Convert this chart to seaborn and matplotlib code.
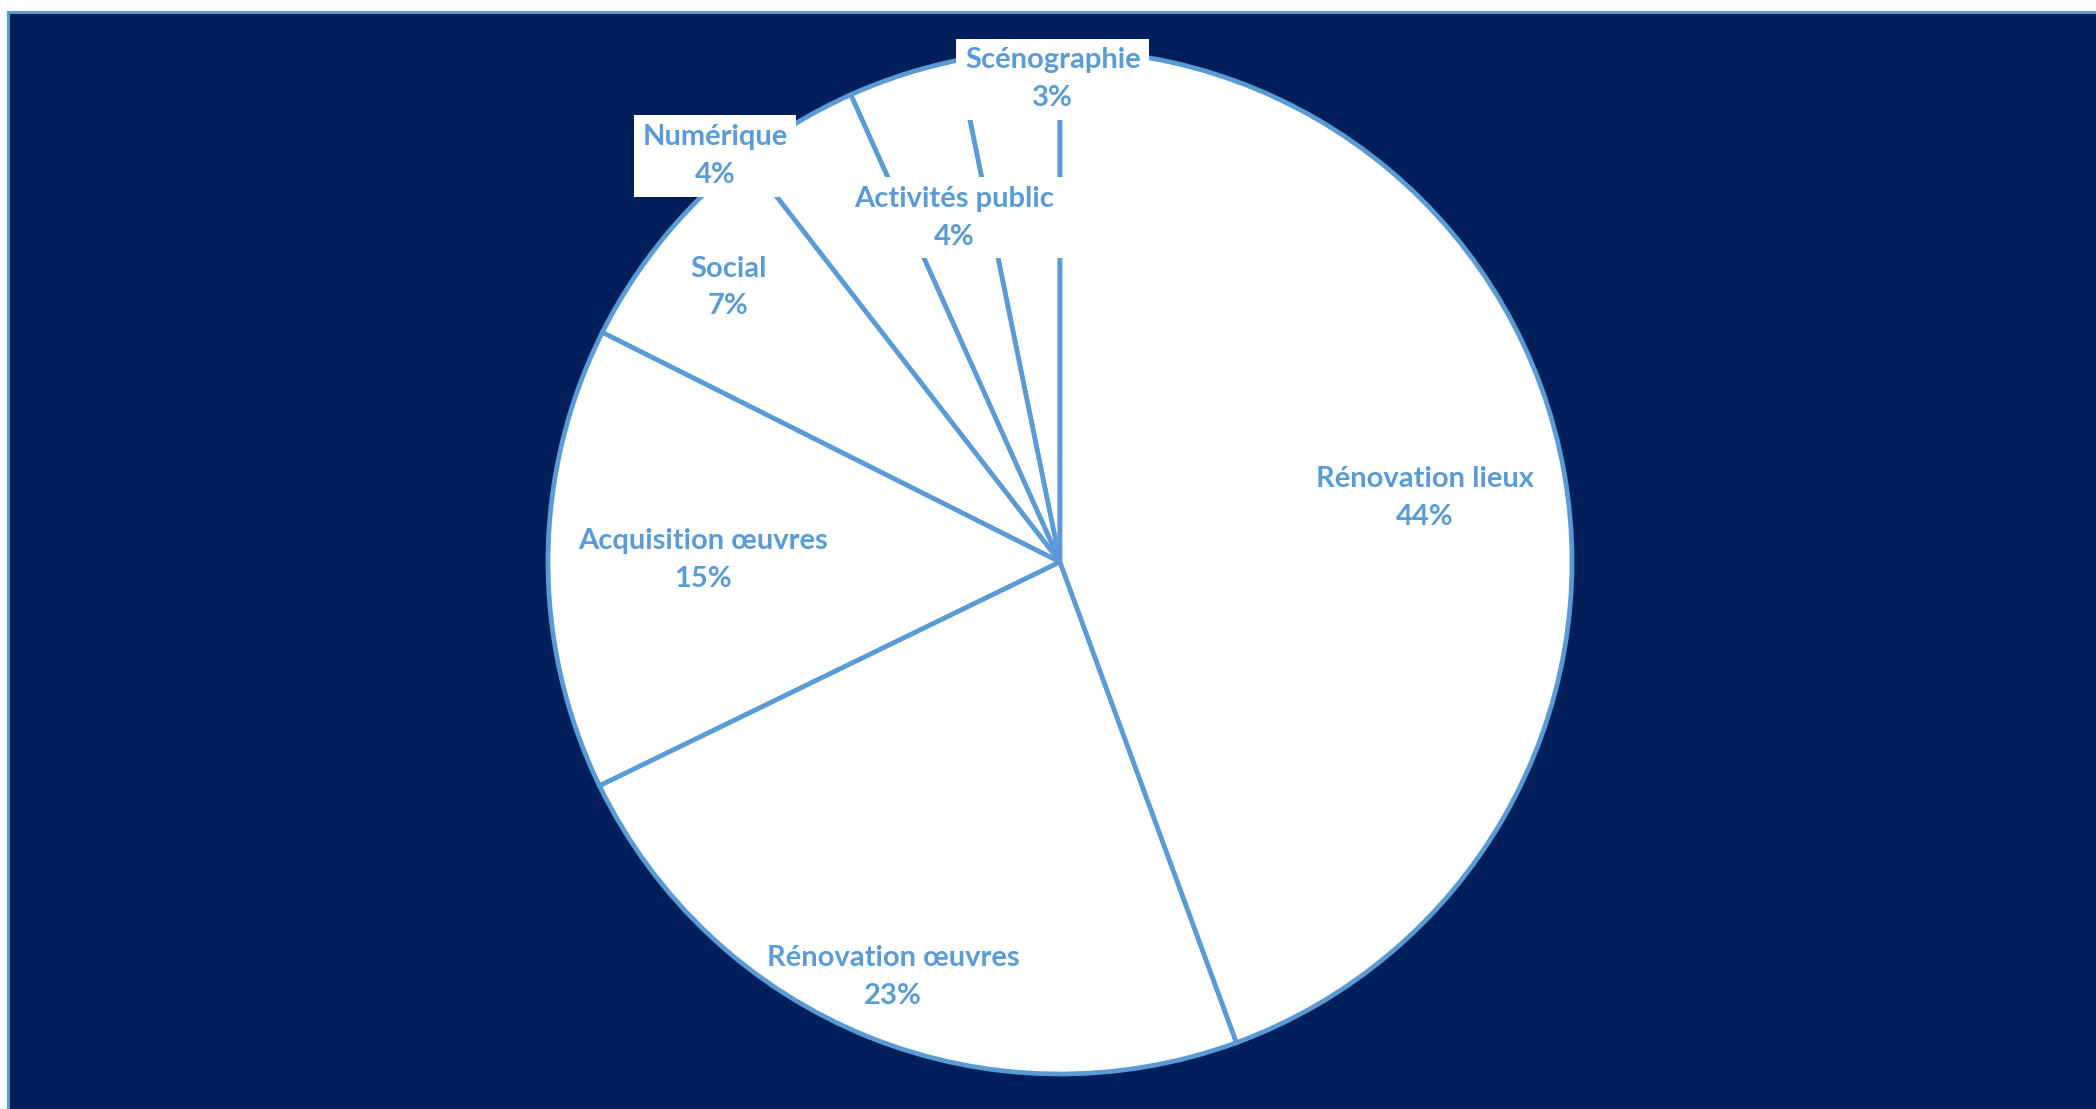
import matplotlib
matplotlib.use("Agg")
import matplotlib.pyplot as plt
from matplotlib.patches import Rectangle
import seaborn as sns

# === données (lecture du graphique, ordre anti-horaire depuis 12h) ===
categories = ["Scénographie", "Activités public", "Numérique", "Social",
              "Acquisition œuvres", "Rénovation œuvres", "Rénovation lieux"]
parts = [3.2, 3.5, 3.8, 7.1, 14.6, 23.4, 44.4]

# position des étiquettes (coord. de l'axe, rayon = 1)
label_xy = [(-0.014, 0.943), (-0.207, 0.672), (-0.674, 0.793), (-0.648, 0.536),
            (-0.697, 0.004), (-0.326, -0.811), (0.713, 0.125)]
# étiquettes avec fond blanc (celles qui chevauchent des traits)
boxed = [True, True, True, False, False, False, False]

navy = "#001F5B"
light_blue = "#5B9BD5"

sns.set_style("white")
plt.rcParams["font.family"] = ["Lato", "DejaVu Sans"]

W, H = 2096, 1109
fig = plt.figure(figsize=(W / 100, H / 100), dpi=100, facecolor="white")

# fond du graphique avec bordure (derrière l'axe)
fig.patches.append(Rectangle((7.5, -20), W + 40, H - 11.5 + 20, transform=None,
                             facecolor=navy, edgecolor=light_blue, linewidth=2.2,
                             zorder=-10))

# axe carré centré sur le camembert
cx, cy, r = 1060, H - 562, 512
ax = fig.add_axes([(cx - r) / W, (cy - r) / H, 2 * r / W, 2 * r / H])
ax.set_facecolor("none")

labels = [f"{c}\n{p:.0f}%" for c, p in zip(categories, parts)]
wedges, texts = ax.pie(parts, labels=labels, startangle=90, counterclock=True,
                       radius=1, colors=["white"] * len(parts),
                       wedgeprops=dict(edgecolor=light_blue, linewidth=3.4),
                       textprops=dict(color=light_blue, fontsize=21, fontweight="bold",
                                      ha="center", va="center", linespacing=1.55))

for t, pos, b in zip(texts, label_xy, boxed):
    t.set_position(pos)
    t.set_horizontalalignment("center")
    t.set_verticalalignment("center")
    if b:
        t.set_bbox(dict(facecolor="white", edgecolor="none", boxstyle="square,pad=0.3"))

ax.set_xlim(-1, 1)
ax.set_ylim(-1, 1)
ax.set_aspect("equal")
ax.axis("off")

fig.savefig("out.png", dpi=100, facecolor=fig.get_facecolor())
